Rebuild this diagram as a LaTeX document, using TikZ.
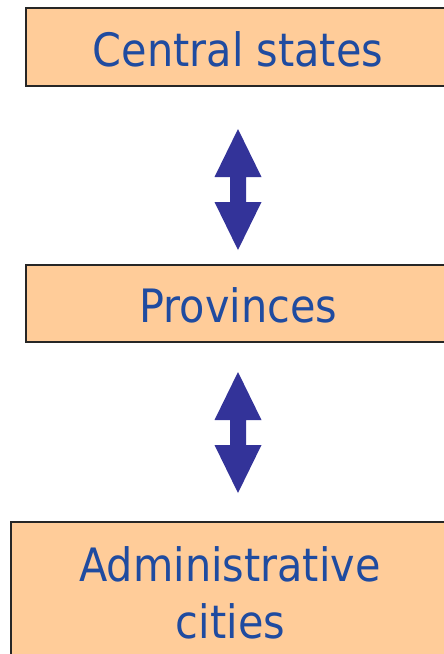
\documentclass[tikz,border=0pt]{standalone}
\usepackage{fontspec}
\setmainfont{DejaVu Sans Condensed}
\definecolor{boxfill}{HTML}{FFCC99}
\definecolor{txtblue}{HTML}{1F4BA0}
\definecolor{arrblue}{HTML}{333399}
\begin{document}
\begin{tikzpicture}[x=1pt,y=-1pt,
  levelbox/.style={draw=black!85,line width=1.5pt,fill=boxfill},
  leveltext/.style={text=txtblue,font=\fontsize{46}{57}\selectfont,align=center,inner sep=0pt},
  dblarrow/.style={fill=arrblue}]
\useasboundingbox (0,0) rectangle (444,654);
% boxes
\draw[levelbox] (26,8) rectangle (452,86);
\draw[levelbox] (26,265) rectangle (452,342);
\draw[levelbox] (11,522) rectangle (449,680);
\node[leveltext,anchor=base] (central) at (238,66) {Central states};
\node[leveltext,anchor=base] (prov) at (238.5,322) {Provinces};
\node[leveltext,anchor=base] (admin) at (230,581) {Administrative};
\node[leveltext,anchor=base] (cities) at (230.5,638) {cities};
% arrows
\coordinate (a1) at (238,129);
\coordinate (a2) at (238,372);
\foreach \c in {a1,a2}{
  \fill[dblarrow] (\c) -- ++(23.5,48) -- ++(-15.5,0) -- ++(0,25) -- ++(15.5,0)
    -- ++(-23.5,48) -- ++(-23.5,-48) -- ++(15.5,0) -- ++(0,-25) -- ++(-15.5,0) -- cycle;
}
\end{tikzpicture}
\end{document}
